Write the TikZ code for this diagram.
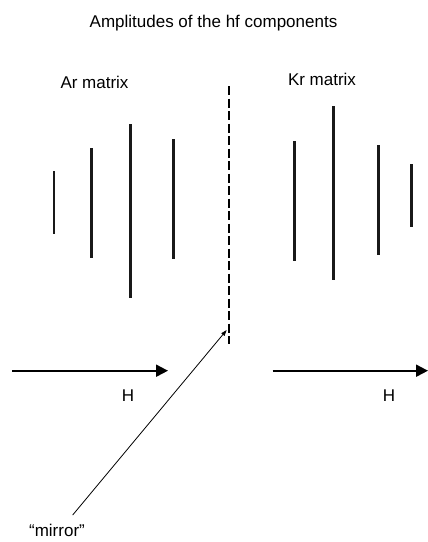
\documentclass[tikz,border=0pt]{standalone}
\usepackage{fontspec}
\setmainfont{Liberation Sans}
\usetikzlibrary{arrows.meta}

\begin{document}
\begin{tikzpicture}[x=1pt, y=-1pt,
    lbl/.style={font=\fontsize{17}{20}\selectfont, inner sep=0pt, anchor=base},
    amp/.style={line width=3pt, black!90},
    field/.style={line width=2pt, -{Triangle[length=12pt, width=12pt]}},
    pointer/.style={line width=0.8pt, -{Triangle[length=6pt, width=4pt]}}]
    \useasboundingbox (0,0) rectangle (428,542);

    % Title and matrix labels
    \node[lbl] (title) at (213.5, 27.5) {Amplitudes of the hf components};
    \node[lbl] (ar) at (94.5, 88.3) {Ar matrix};
    \node[lbl] (kr) at (322, 85) {Kr matrix};

    % Dashed mirror plane
    \coordinate (mtop) at (229, 86);
    \coordinate (mbot) at (229, 344);
    \draw[line width=2pt, dash pattern=on 9pt off 3.5pt] (mtop) -- (mbot);

    % Amplitudes, Ar side
    \draw[amp, line width=2pt] (54, 171) -- (54, 234);
    \foreach \x/\ya/\yb in {91.7/148/258, 130.3/124/298, 173.3/139/259}
        \draw[amp] (\x, \ya) -- (\x, \yb);

    % Amplitudes, Kr side
    \foreach \x/\ya/\yb in {294.3/141/261, 333.3/106/280, 378.3/145/255, 411.3/164/227}
        \draw[amp] (\x, \ya) -- (\x, \yb);

    % Field direction
    \coordinate (h1a) at (12, 370.7);
    \coordinate (h1b) at (168, 370.7);
    \coordinate (h2a) at (272.7, 370.7);
    \coordinate (h2b) at (428, 370.7);
    \draw[field] (h1a) -- (h1b);
    \draw[field] (h2a) -- (h2b);
    \node[lbl] (hleft) at (128, 401.7) {H};
    \node[lbl] (hright) at (389, 401.7) {H};

    % Mirror pointer
    \node[lbl] (mirror) at (57, 536.5) {“mirror”};
    \coordinate (ptail) at (72.7, 515);
    \coordinate (phead) at (226.7, 330);
    \draw[pointer] (ptail) -- (phead);
\end{tikzpicture}
\end{document}
